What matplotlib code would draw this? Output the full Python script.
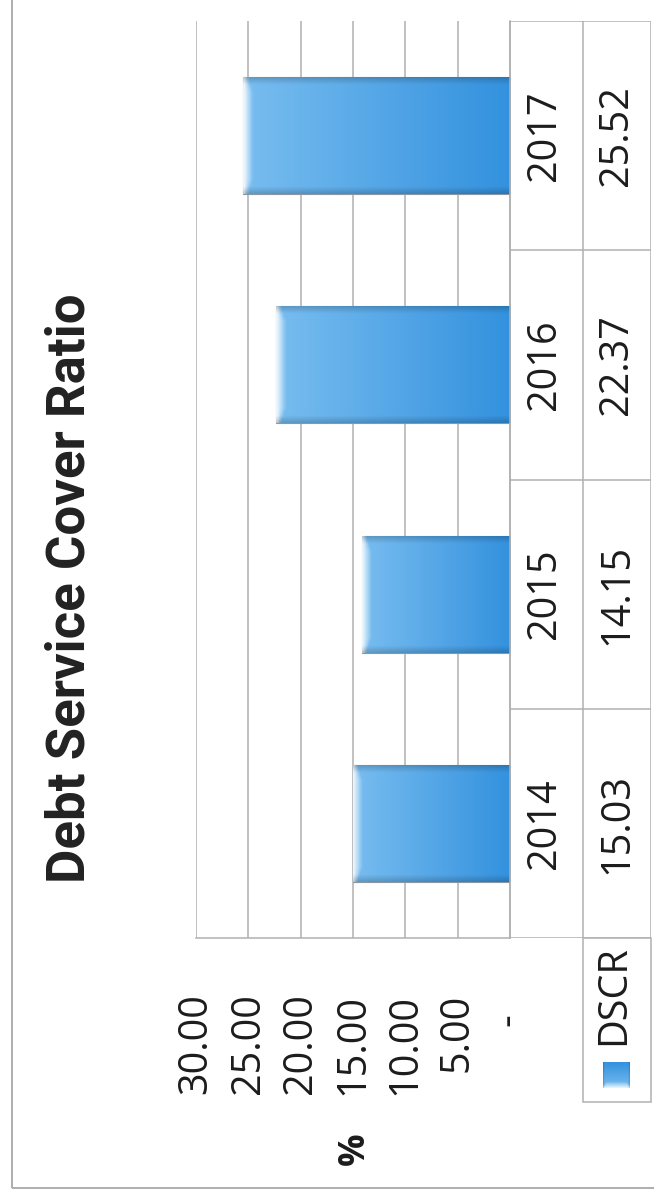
import numpy as np
import matplotlib
matplotlib.use("Agg")
import matplotlib.pyplot as plt
from matplotlib.patches import Rectangle

# ==========================================
# DATA
# ==========================================

years = ["2014", "2015", "2016", "2017"]
dscr = [15.03, 14.15, 22.37, 25.52]
value_labels = ["15.03", "14.15", "22.37", "25.52"]

tick_vals = [0, 5, 10, 15, 20, 25, 30]
tick_labels = ["-  ", "5.00", "10.00", "15.00", "20.00", "25.00", "30.00"]

title = "Debt Service Cover Ratio"
series_name = "DSCR"
axis_title = "%"

# ==========================================
# LAYOUT (pixel helpers, image is rotated)
# ==========================================

W, H = 654, 1197


def fx(px):
    return px / W


def fy(py):
    return 1 - py / H


plt.rcParams["font.family"] = ["Open Sans", "DejaVu Sans"]
TXT = "#1c1c1c"
LINE = "#b0b0b0"
FS = 28.5

fig = plt.figure(figsize=(W / 100, H / 100), dpi=100)

# outer chart border
fig.add_artist(Rectangle((fx(12), fy(1188)), 2, 2, transform=fig.transFigure,
                         fill=False, edgecolor="#a8a8a8", lw=1.3))


def gradient_img(hl=0.04, n=96):
    # lighter towards the tip of the bar, darker at the base, bevel edges
    t = np.linspace(0, 1, n)
    light = np.array([0.47, 0.74, 0.94])
    dark = np.array([0.20, 0.57, 0.87])
    row = light[None, :] * (1 - t[:, None]) + dark[None, :] * t[:, None]
    img = np.repeat(row[None, :, :], n, axis=0)
    v = np.linspace(-1, 1, n)
    # curved white highlight at the tip
    reach = hl * (1 - 0.6 * np.clip((np.abs(v) - 0.75) / 0.25, 0, 1))
    tip = np.clip(1 - t[None, :] / reach[:, None], 0, 1)
    img = img + (1 - img) * 0.85 * tip[:, :, None]
    edge = np.clip((np.abs(v) - 0.88) / 0.12, 0, 1)
    img = img * (1 - 0.18 * edge[:, None, None])
    return np.clip(img, 0, 1)


# ==========================================
# PLOT AREA
# ==========================================

ax = fig.add_axes([fx(196), fy(938), fx(510) - fx(196), fy(21) - fy(938)])
pos = np.arange(len(years))
bars = ax.barh(pos, dscr, height=0.51, color="#4a9fe0",
               edgecolor="#8a96a2", linewidth=0.8, zorder=2)

px_per_unit = (510 - 196) / 30
for b in bars:
    x0, y0 = b.get_x(), b.get_y()
    img = gradient_img(hl=9 / (b.get_width() * px_per_unit))
    im = ax.imshow(img, extent=[x0 + b.get_width(), x0, y0, y0 + b.get_height()],
                   aspect="auto", zorder=2.5, interpolation="bilinear")
    im.set_clip_path(b)

ax.set_xlim(30, 0)
ax.set_ylim(-0.5, 3.5)
ax.set_xticks(tick_vals)
ax.set_xticklabels(tick_labels, rotation=90, fontsize=FS, color=TXT)
ax.tick_params(axis="x", length=0, pad=40)
ax.set_yticks([])
ax.grid(axis="x", color=LINE, lw=1.1)
ax.set_axisbelow(True)
for s in ["left", "top"]:
    ax.spines[s].set_visible(False)
for s in ["right", "bottom"]:
    ax.spines[s].set_color(LINE)
    ax.spines[s].set_linewidth(1.1)

fig.text(fx(355), fy(1149), axis_title, rotation=90, fontsize=26,
         fontweight="bold", color=TXT, ha="center", va="center")

# ==========================================
# DATA TABLE
# ==========================================

tab = fig.add_axes([fx(510), fy(938), fx(651) - fx(510), fy(21) - fy(938)])
tab.set_xlim(0, 1)
tab.set_ylim(-0.5, 3.5)
tab.axis("off")
split = (583 - 510) / (651 - 510)
for xv in [0, split, 1]:
    tab.axvline(xv, color=LINE, lw=1.1)
for yv in np.arange(len(years) + 1) - 0.5:
    tab.axhline(yv, color=LINE, lw=1.1)
for i in range(len(years)):
    tab.text((545 - 510) / 141, pos[i], years[i], rotation=90, fontsize=FS,
             color=TXT, ha="center", va="center")
    tab.text((617 - 510) / 141, pos[i], value_labels[i], rotation=90,
             fontsize=FS, color=TXT, ha="center", va="center")

# legend cell
fig.add_artist(Rectangle((fx(583), fy(1102)), fx(651) - fx(583), fy(938) - fy(1102),
                         transform=fig.transFigure, fill=False,
                         edgecolor=LINE, lw=1.1))
fig.text(fx(614), fy(995), series_name, rotation=90, fontsize=FS,
         color=TXT, ha="center", va="center")
key = fig.add_axes([fx(603), fy(1088), fx(630) - fx(603), fy(1062) - fy(1088)])
key.imshow(np.transpose(gradient_img(hl=0.25), (1, 0, 2))[::-1], aspect="auto",
           interpolation="bilinear")
key.axis("off")

# ==========================================
# TITLE
# ==========================================

fig.text(fx(70), fy(588), title, rotation=90, fontsize=38, fontweight="bold",
         family=["Roboto", "DejaVu Sans"], color="#222222",
         ha="center", va="center")

fig.savefig("out.png", dpi=100)
